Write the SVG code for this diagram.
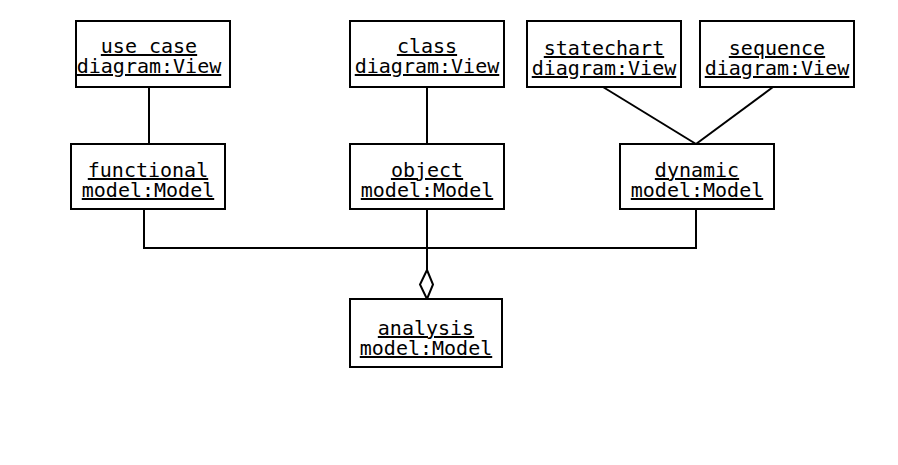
<svg xmlns="http://www.w3.org/2000/svg" width="898" height="465" viewBox="0 0 898 465">
<style>
.box{fill:#fff;stroke:#000;stroke-width:2}
.t{font-family:"DejaVu Sans Mono","Liberation Mono",monospace;font-size:20px;fill:#000;text-anchor:middle;text-decoration:underline}
.c{fill:none;stroke:#000;stroke-width:2}
</style>
<rect width="898" height="465" fill="#fff"/>
<g id="connectors">
<line class="c" x1="149" y1="87" x2="149" y2="144"/>
<line class="c" x1="427" y1="87" x2="427" y2="144"/>
<line class="c" x1="603" y1="87" x2="696" y2="144"/>
<line class="c" x1="773" y1="87" x2="696" y2="144"/>
<polyline class="c" points="144,209 144,248 696,248 696,209"/>
<line class="c" x1="427" y1="209" x2="427" y2="270"/>
<polygon class="c" points="427,270 433,284.5 427,299 420,284.5" style="fill:#fff"/>
</g>
<g id="usecase"><rect class="box" x="76" y="21" width="154" height="66"/><text class="t" x="149" y="53">use case</text><text class="t" x="149" y="73">diagram:View</text></g>
<g id="class"><rect class="box" x="350" y="21" width="154" height="66"/><text class="t" x="427" y="53">class</text><text class="t" x="427" y="73">diagram:View</text></g>
<g id="statechart"><rect class="box" x="527" y="21" width="154" height="66"/><text class="t" x="604" y="55">statechart</text><text class="t" x="604" y="75">diagram:View</text></g>
<g id="sequence"><rect class="box" x="700" y="21" width="154" height="66"/><text class="t" x="777" y="55">sequence</text><text class="t" x="777" y="75">diagram:View</text></g>
<g id="functional"><rect class="box" x="71" y="144" width="154" height="65"/><text class="t" x="148" y="177">functional</text><text class="t" x="148" y="197">model:Model</text></g>
<g id="object"><rect class="box" x="350" y="144" width="154" height="65"/><text class="t" x="427" y="177">object</text><text class="t" x="427" y="197">model:Model</text></g>
<g id="dynamic"><rect class="box" x="620" y="144" width="154" height="65"/><text class="t" x="697" y="177">dynamic</text><text class="t" x="697" y="197">model:Model</text></g>
<g id="analysis"><rect class="box" x="350" y="299" width="152" height="68"/><text class="t" x="426" y="335">analysis</text><text class="t" x="426" y="355">model:Model</text></g>
</svg>
